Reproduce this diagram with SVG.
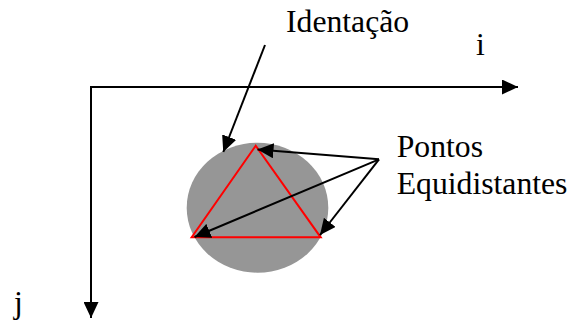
<svg xmlns="http://www.w3.org/2000/svg" width="571" height="324" viewBox="0 0 571 324">
<style>
.c{stroke:#000;stroke-width:2;fill:none}
</style>
<defs>
<marker id="ah" markerUnits="userSpaceOnUse" markerWidth="16" markerHeight="15" refX="16" refY="7.5" orient="auto-start-reverse" viewBox="0 0 16 15">
<path d="M0,0 L16,7.5 L0,15 z" fill="#000"/>
</marker>
</defs>
<rect width="571" height="324" fill="#fff"/>
<g id="indentation">
<ellipse cx="257.5" cy="207.7" rx="70.8" ry="65" fill="#969696"/>
<polygon points="255.7,145.7 191.7,237.3 320.7,237.3" fill="none" stroke="#ff0000" stroke-width="2"/>
</g>
<g id="label-identacao"><text x="286" y="32" font-family="'Liberation Serif', serif" font-size="31.7">Identação</text></g>
<g id="label-pontos"><text x="396.7" y="156.7" font-family="'Liberation Serif', serif" font-size="31.7">Pontos</text><text x="396.7" y="194" font-family="'Liberation Serif', serif" font-size="31.7">Equidistantes</text></g>
<g id="label-i"><text x="476" y="55" font-family="'Liberation Serif', serif" font-size="31.7">i</text></g>
<g id="label-j"><text x="14" y="313" font-family="'Liberation Serif', serif" font-size="31.7">j</text></g>
<g id="connectors">
<path class="c" d="M91,318 L91,87 L518,87" marker-start="url(#ah)" marker-end="url(#ah)"/>
<line class="c" x1="265" y1="45" x2="223.3" y2="152" marker-end="url(#ah)"/>
<line class="c" x1="379" y1="159.3" x2="257.5" y2="149.5" marker-end="url(#ah)"/>
<line class="c" x1="379" y1="159.3" x2="194.5" y2="237" marker-end="url(#ah)"/>
<line class="c" x1="379" y1="159.3" x2="320" y2="235" marker-end="url(#ah)"/>
</g>
</svg>
